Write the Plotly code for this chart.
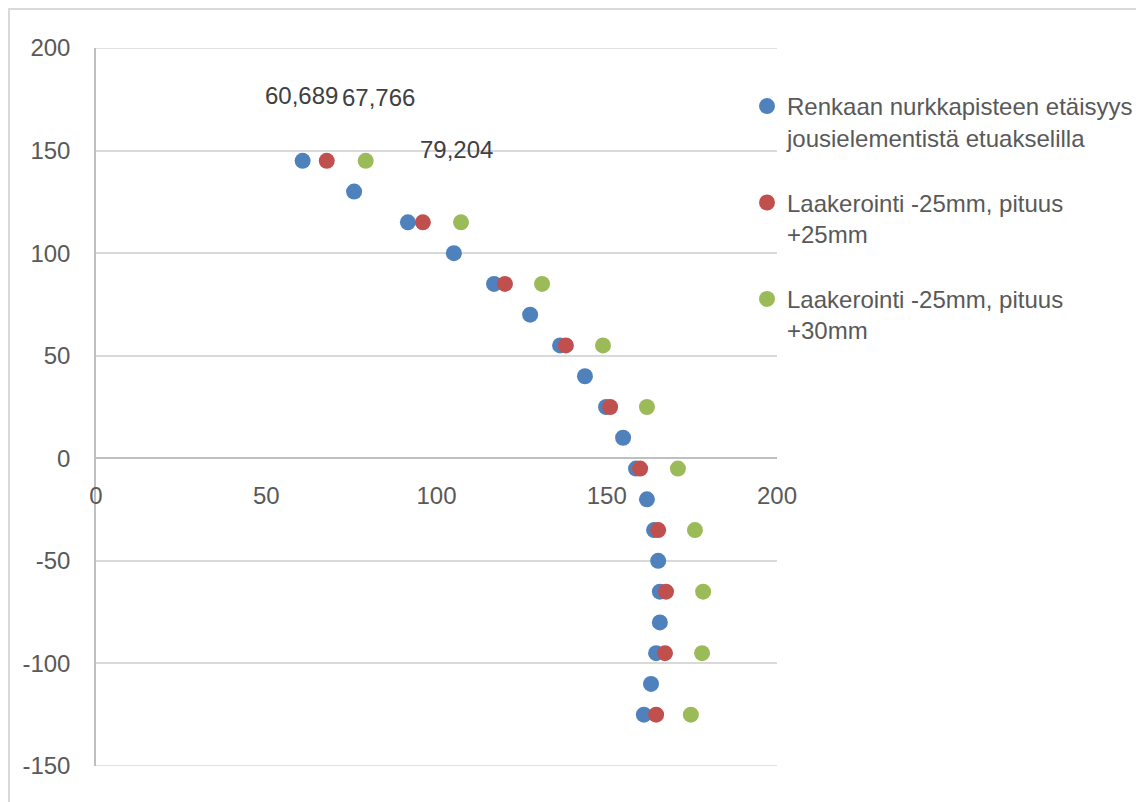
import plotly.graph_objects as go

# Data
series_names = [
    "Renkaan nurkkapisteen etäisyys<br>jousielementistä etuakselilla",
    "Laakerointi -25mm, pituus<br>+25mm",
    "Laakerointi -25mm, pituus<br>+30mm",
]
blue_y = [145, 130, 115, 100, 85, 70, 55, 40, 25, 10, -5, -20, -35, -50, -65, -80, -95, -110, -125]
blue_x = [60.689, 75.8, 91.6, 105.1, 116.9, 127.5, 136.3, 143.6, 149.8, 154.8, 158.6, 161.8,
          163.9, 165.1, 165.6, 165.6, 164.5, 163.0, 160.9]
red_y = [145, 115, 85, 55, 25, -5, -35, -65, -95, -125]
red_x = [67.766, 96.0, 120.1, 138.0, 151.0, 159.8, 165.1, 167.4, 167.1, 164.5]
green_y = [145, 115, 85, 55, 25, -5, -35, -65, -95, -125]
green_x = [79.204, 107.2, 131.0, 148.9, 161.8, 170.9, 175.9, 178.3, 178.0, 174.7]

x_ticks = [0, 50, 100, 150, 200]
y_ticks = [-150, -100, -50, 0, 50, 100, 150, 200]

colors = ["#4f81bd", "#c0504d", "#9bbb59"]
text_color = "#595959"
FONT = "Liberation Sans, Arial, sans-serif"

W, H = 1136, 794
L, T, PW, PH = 88, 40, 681, 718

fig = go.Figure()
for i, (xs, ys) in enumerate([(blue_x, blue_y), (red_x, red_y), (green_x, green_y)]):
    fig.add_trace(go.Scatter(
        x=xs, y=ys, mode="markers", name=series_names[i],
        legendgroup=f"g{i}",
        marker=dict(size=16, color=colors[i], line=dict(width=0)),
    ))

# Data labels for first point of each series (moved as in reference)
label_shifts = [(-1.5, 65), (52, 63), (91, 11)]
for (xs, ys), (dx, dy) in zip([(blue_x, blue_y), (red_x, red_y), (green_x, green_y)], label_shifts):
    fig.add_annotation(
        x=xs[0], y=ys[0], xref="x", yref="y",
        text=f"{xs[0]:.3f}".replace(".", ","),
        showarrow=False, xshift=dx, yshift=dy,
        font=dict(size=24, color="#404040", family=FONT),
    )

fig.update_layout(
    width=W, height=H,
    margin=dict(l=L, r=W - L - PW, t=T, b=H - T - PH, autoexpand=False),
    paper_bgcolor="white", plot_bgcolor="white",
    font=dict(family=FONT, size=24, color=text_color),
    showlegend=True,
    legend=dict(
        xref="container", yref="container",
        x=739 / W, xanchor="left", y=1 - 76 / H, yanchor="top",
        valign="top", tracegroupgap=31,
        font=dict(size=24, color=text_color, family=FONT),
        bgcolor="rgba(0,0,0,0)",
    ),
    xaxis=dict(
        range=[0, 200], tickvals=x_ticks, ticktext=[str(v) for v in x_ticks],
        showgrid=False, zeroline=False, automargin=False,
        anchor="free", position=150 / 350,
        showline=True, linecolor="#bfbfbf", linewidth=1.5,
        ticks="", ticklabelstandoff=16,
        tickfont=dict(size=24, color=text_color, family=FONT),
    ),
    yaxis=dict(
        range=[-150, 200], tickvals=y_ticks, ticktext=[str(v) for v in y_ticks],
        showgrid=True, gridcolor="#d9d9d9", gridwidth=1.5, automargin=False,
        zeroline=False, showline=True, linecolor="#bfbfbf", linewidth=1.5,
        ticks="", ticklabelstandoff=19,
        tickfont=dict(size=24, color=text_color, family=FONT),
    ),
    shapes=[
        dict(type="rect", xref="paper", yref="paper",
             x0=(1 - L) / PW, x1=(1134 - L) / PW,
             y0=(T + PH - 810) / PH, y1=(T + PH - 1) / PH,
             line=dict(color="#d9d9d9", width=2), fillcolor="rgba(0,0,0,0)", layer="below"),
        dict(type="line", xref="paper", yref="y", x0=0, x1=1, y0=y_ticks[-1], y1=y_ticks[-1],
             line=dict(color="#d9d9d9", width=1.5), layer="below"),
        dict(type="line", xref="paper", yref="y", x0=0, x1=1, y0=y_ticks[0], y1=y_ticks[0],
             line=dict(color="#d9d9d9", width=1.5), layer="below"),
    ],
)

fig.write_html("out.html")
